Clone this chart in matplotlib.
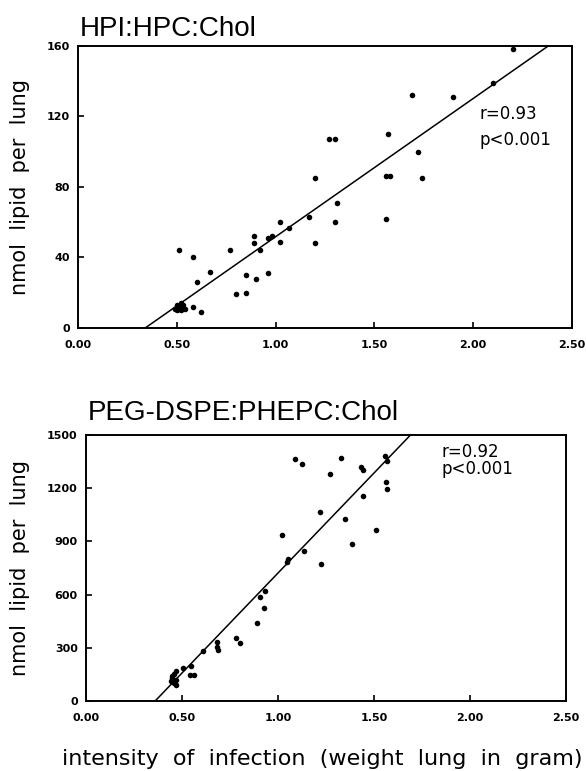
import matplotlib.pyplot as plt

# top panel: HPI:HPC:Chol
hpi_x = [2.20, 2.10, 1.69, 1.90, 1.27, 1.30, 1.57, 1.72, 1.20, 1.56, 1.58, 1.74,
         1.56, 1.31, 1.30, 1.17, 1.20, 1.07, 1.02, 1.02, 0.96, 0.98, 0.89, 0.89,
         0.92, 0.77, 0.67, 0.85, 0.90, 0.96, 0.80, 0.85, 0.51, 0.58, 0.60, 0.58,
         0.62, 0.49, 0.50, 0.51, 0.52, 0.53, 0.54, 0.50, 0.52]
hpi_y = [158, 139, 132, 131, 107, 107, 110, 100, 85, 86, 86, 85,
         62, 71, 60, 63, 48, 57, 60, 49, 51, 52, 52, 48,
         44, 44, 32, 30, 28, 31, 19, 20, 44, 40, 26, 12,
         9, 11, 13, 12, 10, 13, 11, 10, 14]
hpi_fit_x = [0.34, 2.38]
hpi_fit_y = [0, 160]

# bottom panel: PEG-DSPE:PHEPC:Chol
peg_x = [1.09, 1.125, 1.33, 1.27, 1.43, 1.44, 1.555, 1.565, 1.56, 1.57,
         1.44, 1.22, 1.35, 1.51, 1.02, 1.385, 1.135, 1.05, 1.045, 1.225,
         0.93, 0.905, 0.925, 0.89, 0.78, 0.80, 0.68, 0.68, 0.685, 0.61,
         0.545, 0.505, 0.54, 0.56, 0.47, 0.44, 0.45, 0.46, 0.47, 0.47, 0.46, 0.45]
peg_y = [1366, 1337, 1372, 1282, 1319, 1300, 1379, 1356, 1233, 1195,
         1155, 1066, 1026, 966, 935, 884, 844, 801, 785, 774,
         619, 588, 522, 440, 357, 328, 334, 303, 290, 283,
         199, 186, 148, 148, 171, 110, 130, 100, 120, 90, 150, 140]
peg_fit_x = [0.36, 1.69]
peg_fit_y = [0, 1500]

xticks = [0.0, 0.5, 1.0, 1.5, 2.0, 2.5]

panels = [
    dict(title="HPI:HPC:Chol", x=hpi_x, y=hpi_y, fx=hpi_fit_x, fy=hpi_fit_y,
         yticks=[0, 40, 80, 120, 160], stats="r=0.93\np<0.001",
         rect=[0.1331, 0.5746, 0.843, 0.3658], sx=2.03, sy=114, ls=1.6, tpad=7),
    dict(title="PEG-DSPE:PHEPC:Chol", x=peg_x, y=peg_y, fx=peg_fit_x, fy=peg_fit_y,
         yticks=[0, 300, 600, 900, 1200, 1500], stats="r=0.92\np<0.001",
         rect=[0.1468, 0.0908, 0.8191, 0.345], sx=1.85, sy=1355, ls=0.95, tpad=11),
]

fig = plt.figure(figsize=(5.86, 7.71), dpi=100)
for p in panels:
    ax = fig.add_axes(p["rect"])
    ax.scatter(p["x"], p["y"], s=16, color="black", zorder=3, linewidths=0)
    ax.plot(p["fx"], p["fy"], color="black", lw=1.1)
    ax.set_xlim(0, 2.5)
    ax.set_ylim(0, p["yticks"][-1])
    ax.set_xticks(xticks)
    ax.set_xticklabels([f"{t:.2f}" for t in xticks])
    ax.set_yticks(p["yticks"])
    ax.tick_params(axis="x", direction="in", length=4, width=1.2, pad=9, labelsize=8)
    ax.tick_params(axis="y", direction="in", length=4, width=1.2, pad=6, labelsize=8)
    for lab in ax.get_xticklabels() + ax.get_yticklabels():
        lab.set_fontweight("bold")
    for sp in ax.spines.values():
        sp.set_linewidth(1.4)
    ax.set_title(p["title"], loc="left", fontsize=20, family="Liberation Sans",
                 pad=p["tpad"], x=0.004)
    ax.text(p["sx"], p["sy"], p["stats"], fontsize=12, va="center", ha="left",
            linespacing=p["ls"])
    ax.set_ylabel("nmol  lipid  per  lung", fontsize=15, labelpad=12)

fig.text(0.55, 0.003, "intensity  of  infection  (weight  lung  in  gram)",
         fontsize=16, ha="center", va="bottom")

fig.savefig("out.png", dpi=100)
